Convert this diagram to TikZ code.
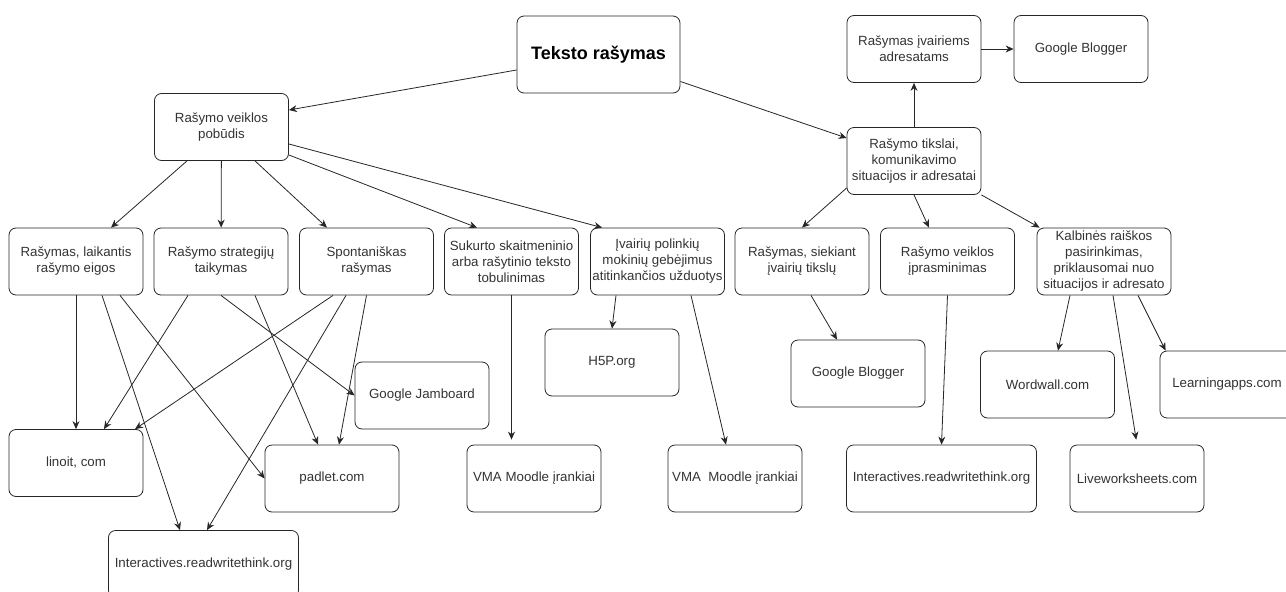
\documentclass[tikz,border=0pt]{standalone}
\usepackage{fontspec}
\setmainfont{Liberation Sans}
\usetikzlibrary{arrows.meta}

\begin{document}
\begin{tikzpicture}[x=1pt, y=-1pt, >={Stealth[length=8pt,width=7pt]},
    box/.style={draw=black!85, rounded corners=7pt, minimum width=134pt, minimum height=67pt,
      align=center, inner sep=1.5pt, line width=0.8pt, text=black!80,
      font=\fontsize{13.3}{16}\selectfont},
    wide/.style={box, minimum width=190pt},
    link/.style={->, line width=0.8pt, draw=black!85}]
        \clip (0,0) rectangle (1286,592);

        \node[box, minimum width=163pt, minimum height=77pt, text=black,
          font=\fontsize{18}{22}\selectfont\bfseries] (1) at (598.5,54.5) {Teksto rašymas};
        \node[box] (2) at (221.5,127) {Rašymo veiklos\\pobūdis};
        \node[box] (3) at (914,161) {Rašymo tikslai,\\komunikavimo\\situacijos ir adresatai};
        \node[box] (4) at (914,49) {Rašymas įvairiems\\adresatams};
        \node[box] (5) at (1081,49) {Google Blogger};

        \node[box] (6) at (76,261.5) {Rašymas, laikantis\\rašymo eigos};
        \node[box] (7) at (221,261.5) {Rašymo strategijų\\taikymas};
        \node[box] (8) at (366.5,261.5) {Spontaniškas\\rašymas};
        \node[box] (9) at (511.5,261.5) {Sukurto skaitmeninio\\arba rašytinio teksto\\tobulinimas};
        \node[box] (10) at (657.5,261.5) {Įvairių polinkių\\mokinių gebėjimus\\atitinkančios užduotys};
        \node[box] (11) at (802,261.5) {Rašymas, siekiant\\įvairių tikslų};
        \node[box] (12) at (947.5,261.5) {Rašymo veiklos\\įprasminimas};
        \node[box] (13) at (1104,261.5) {Kalbinės raiškos\\pasirinkimas,\\priklausomai nuo\\situacijos ir adresato};

        \node[box] (14) at (76,463) {linoit, com};
        \node[box] (15) at (332,478.5) {padlet.com};
        \node[box] (16) at (422,395.5) {Google Jamboard};
        \node[wide] (17) at (203.5,564) {Interactives.readwritethink.org};
        \node[box] (18) at (534,478.5) {VMA Moodle įrankiai};
        \node[box] (19) at (612,362.5) {H5P.org};
        \node[box] (20) at (735,478.5) {VMA\ \ Moodle įrankiai};
        \node[box] (21) at (858,373.5) {Google Blogger};
        \node[wide] (22) at (941.5,478.5) {Interactives.readwritethink.org};
        \node[box] (23) at (1047.5,384.5) {Wordwall.com};
        \node[box] (24) at (1227,384.5) {Learningapps.com};
        \node[box] (25) at (1137,478.5) {Liveworksheets.com};

        \draw[link] ([yshift=-15.5pt]1.west) -- ([yshift=17pt]2.east);
        \draw[link] ([yshift=-27pt]1.east) -- ([yshift=23pt]3.west);
        \draw[link] (3) -- (4);
        \draw[link] (4) -- (5);

        \draw[link] ([xshift=-34.5pt]2.south) -- ([xshift=35pt]6.north);
        \draw[link] (2) -- (7);
        \draw[link] ([xshift=33.5pt]2.south) -- ([xshift=-39.5pt]8.north);
        \draw[link] ([yshift=-28pt]2.east) -- ([xshift=-34.5pt]9.north);
        \draw[link] ([yshift=-17pt]2.east) -- ([xshift=12pt]10.north west);
        \draw[link] ([yshift=-27pt]3.west) -- (11.north);
        \draw[link] (3.south) -- ([xshift=-18.5pt]12.north);
        \draw[link] (3.south east) -- ([xshift=3pt]13.north west);

        \draw[link] (6) -- (14);
        \draw[link] ([xshift=26pt]6.south) -- ([xshift=-23.5pt]17.north);
        \draw[link] ([xshift=44pt]6.south) -- (15.west);
        \draw[link] ([xshift=-33pt]7.south) -- ([xshift=28pt]14.north);
        \draw[link] (7.south) -- (16.west);
        \draw[link] ([xshift=34pt]7.south) -- ([xshift=-14pt]15.north);
        \draw[link] ([xshift=-33.5pt]8.south) -- ([xshift=59pt]14.north);
        \draw[link] ([xshift=-20.5pt]8.south) -- ([xshift=3.5pt]17.north);
        \draw[link] (8.south) -- ([xshift=7pt]15.north);
        \draw[link, shorten >=5pt] (9.south) -- (9.south |- 18.north);
        \draw[link] ([xshift=-41.5pt]10.south) -- (19.north);
        \draw[link] ([xshift=33.5pt]10.south) -- ([xshift=-9pt]20.north);
        \draw[link] ([xshift=9pt]11.south) -- ([xshift=-21pt]21.north);
        \draw[link] (12.south) -- (22.north);
        \draw[link] ([xshift=-34pt]13.south) -- ([xshift=10.5pt]23.north);
        \draw[link, shorten >=5pt] ([xshift=9pt]13.south) -- (25.north);
        \draw[link] ([xshift=34pt]13.south) -- ([xshift=6pt]24.north west);
      \end{tikzpicture}
\end{document}
